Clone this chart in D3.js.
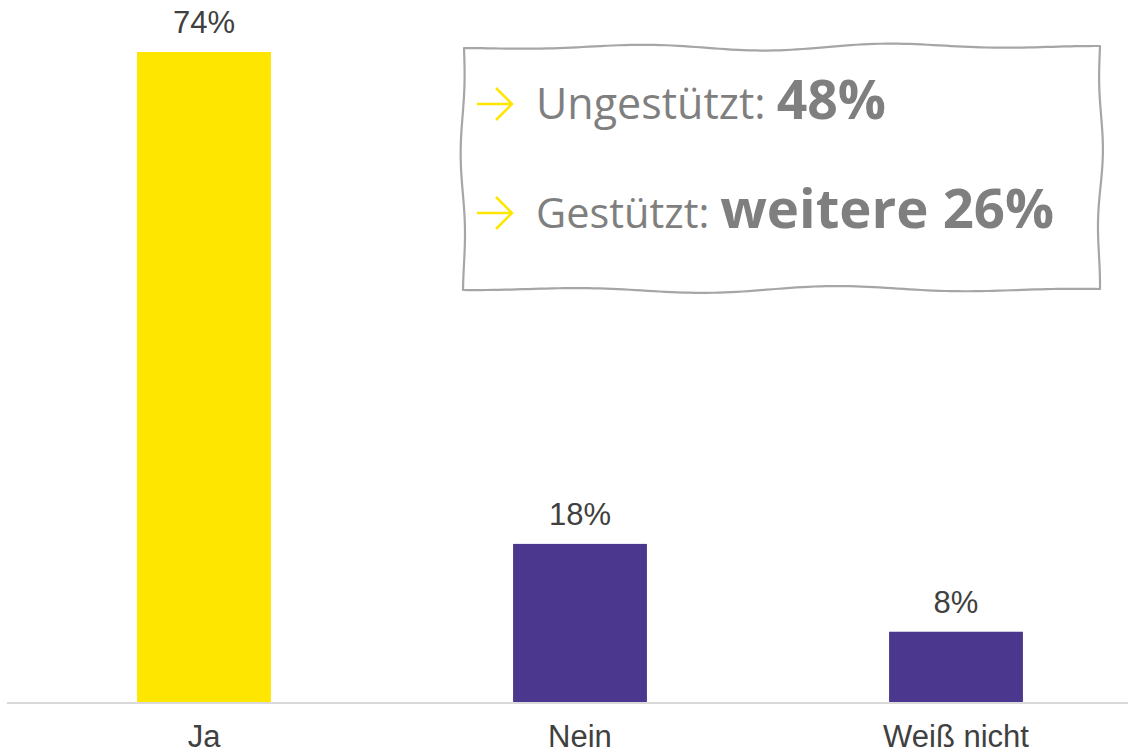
<!DOCTYPE html>
<html>
<head>
<meta charset="utf-8">
<script src="https://cdn.jsdelivr.net/npm/d3@7"></script>
<style>
  html, body { margin: 0; padding: 0; background: #fff; }
  svg { display: block; }
</style>
</head>
<body>
<div id="chart"></div>
<script>
// Data
const categories = ["Ja", "Nein", "Weiß nicht"];
const values = [74, 18, 8];
const barColors = ["#FFE600", "#4B388E", "#4B388E"];

// Callout box lines: [label, highlight]
const calloutLabels = ["Ungestützt:", "Gestützt:"];
const calloutValues = ["48%", "weitere 26%"];

// Dimensions
const width = 1128, height = 755;
const baseY = 702;

const svg = d3.select("#chart")
  .append("svg")
  .attr("width", width)
  .attr("height", height);

// Scales
const x = d3.scaleBand()
  .domain(categories)
  .range([16, 1144])
  .paddingInner(0.644)
  .paddingOuter(0.322);

const y = d3.scaleLinear()
  .domain([0, 74])
  .range([baseY, 52]);

// Bars
svg.selectAll(".bar")
  .data(values)
  .enter()
  .append("rect")
  .attr("class", "bar")
  .attr("x", (d, i) => x(categories[i]))
  .attr("y", d => y(d))
  .attr("width", x.bandwidth())
  .attr("height", d => baseY - y(d))
  .attr("fill", (d, i) => barColors[i]);

// Baseline
svg.append("line")
  .attr("x1", 7).attr("x2", width)
  .attr("y1", baseY + 1).attr("y2", baseY + 1)
  .attr("stroke", "#d9d9d9")
  .attr("stroke-width", 2);

// Value labels
svg.selectAll(".val")
  .data(values)
  .enter()
  .append("text")
  .attr("class", "val")
  .attr("x", (d, i) => x(categories[i]) + x.bandwidth() / 2)
  .attr("y", d => y(d) - 19)
  .attr("text-anchor", "middle")
  .style("font-family", "'Liberation Sans', Arial, sans-serif")
  .style("font-size", "31px")
  .style("fill", "#404040")
  .text(d => d + "%");

// Category labels
svg.selectAll(".cat")
  .data(categories)
  .enter()
  .append("text")
  .attr("class", "cat")
  .attr("x", d => x(d) + x.bandwidth() / 2)
  .attr("y", 747)
  .attr("text-anchor", "middle")
  .style("font-family", "'Liberation Sans', Arial, sans-serif")
  .style("font-size", "31px")
  .style("fill", "#404040")
  .text(d => d);

// Hand-drawn looking callout box
function wavyEdge(x0, y0, x1, y1, amp, period, phase) {
  let pts = [];
  let len = Math.hypot(x1 - x0, y1 - y0);
  let n = Math.ceil(len / 6);
  let nx = -(y1 - y0) / len, ny = (x1 - x0) / len;
  for (let i = 0; i <= n; i++) {
    let t = i / n;
    let off = amp * Math.sin(2 * Math.PI * (t * len / period) + phase) * Math.sin(Math.PI * t);
    pts.push([x0 + (x1 - x0) * t + nx * off, y0 + (y1 - y0) * t + ny * off]);
  }
  return pts;
}

const box = { x0: 464, y0: 48, x1: 1100, y1: 289 };
let outline = []
  .concat(wavyEdge(box.x0, box.y0, box.x1, box.y0 - 2, 3.5, 260, 0.6))
  .concat(wavyEdge(box.x1, box.y0 - 2, box.x1, box.y1, 3, 180, 1.2))
  .concat(wavyEdge(box.x1, box.y1, box.x0 - 1, box.y1 + 1, 3.5, 280, 2.0))
  .concat(wavyEdge(box.x0 - 1, box.y1 + 1, box.x0, box.y0, 3, 200, 0.3));

svg.append("path")
  .attr("d", d3.line().curve(d3.curveLinear)(outline) + "Z")
  .attr("fill", "#fff")
  .attr("stroke", "#a6a6a6")
  .attr("stroke-width", 2.2)
  .attr("stroke-linejoin", "round");

// Callout lines
const lineBaselines = [119, 228];
const labelSizes = [43, 41.5];
const valueSizes = [53.5, 54.5];

const lines = svg.selectAll(".callout")
  .data(calloutLabels)
  .enter()
  .append("g")
  .attr("class", "callout")
  .attr("transform", (d, i) => `translate(0,${lineBaselines[i]})`);

// Yellow arrows
lines.append("path")
  .attr("d", "M477,-15 L511,-15 M496,-31 L512,-15 L496,1")
  .attr("fill", "none")
  .attr("stroke", "#FFE600")
  .attr("stroke-width", 2.6);

const callText = lines.append("text")
  .attr("x", 536)
  .attr("y", 0)
  .style("font-family", "'Open Sans', 'Noto Sans', sans-serif")
  .style("fill", "#7f7f7f");

callText.append("tspan")
  .style("font-size", (d, i) => labelSizes[i] + "px")
  .text(d => d + " ");

callText.append("tspan")
  .style("font-size", (d, i) => valueSizes[i] + "px")
  .style("font-weight", "bold")
  .text((d, i) => calloutValues[i]);
</script>
</body>
</html>
